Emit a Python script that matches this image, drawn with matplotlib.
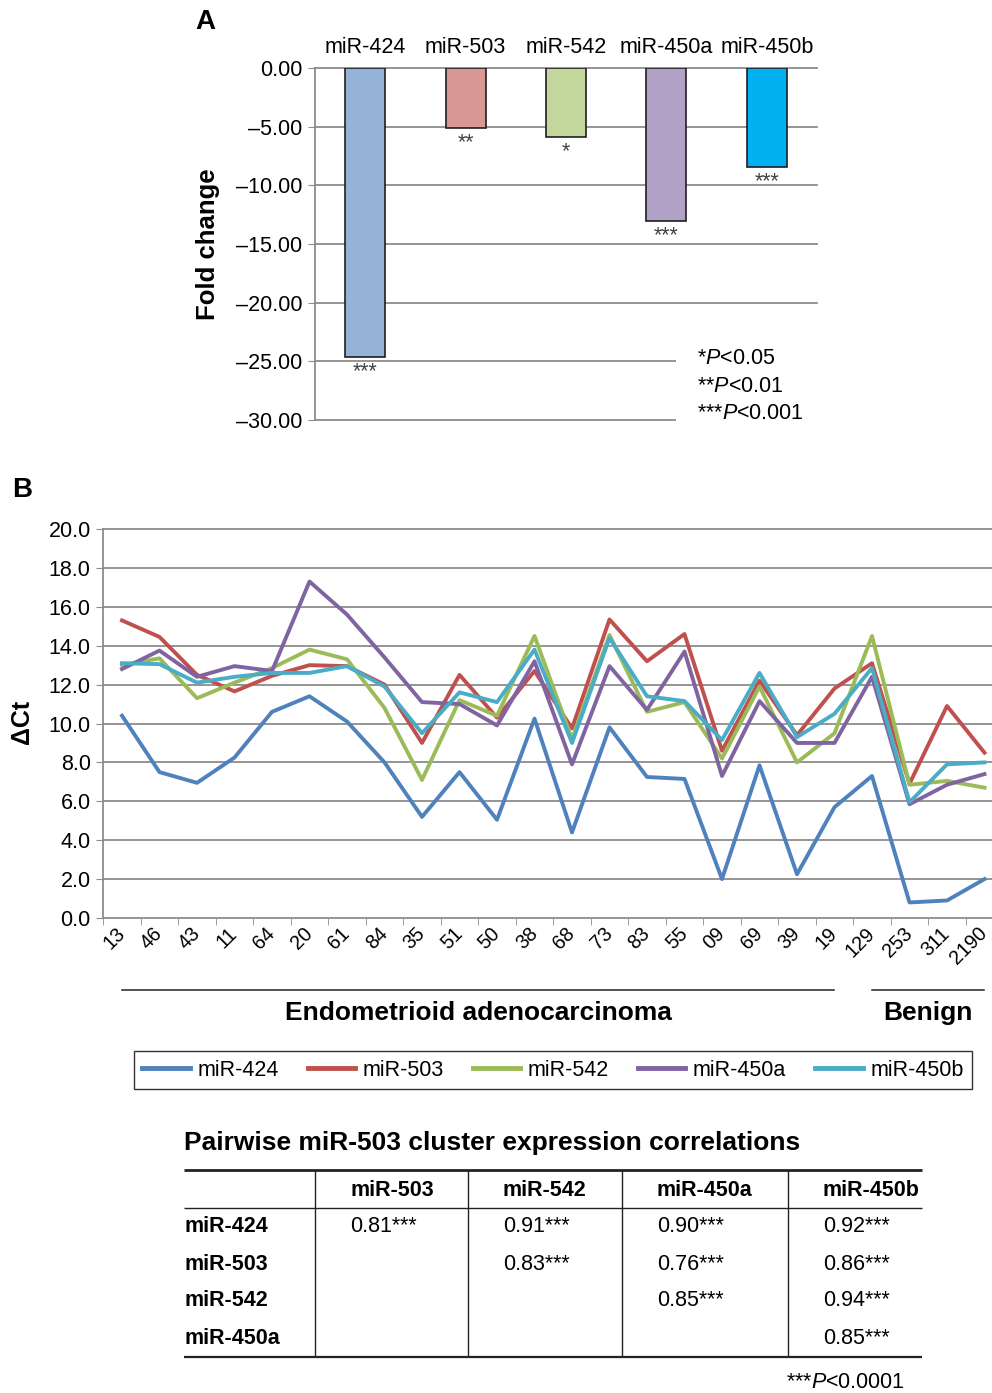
import numpy as np
import matplotlib
matplotlib.use('Agg')
import matplotlib.pyplot as plt
from matplotlib import transforms as mtransforms

plt.rcParams['font.family'] = ['Liberation Sans', 'DejaVu Sans']
plt.rcParams['mathtext.fontset'] = 'custom'
plt.rcParams['mathtext.rm'] = 'Liberation Sans'
plt.rcParams['mathtext.it'] = 'Liberation Sans:italic'

# ---- data ----
mirnas = ['miR-424', 'miR-503', 'miR-542', 'miR-450a', 'miR-450b']
fold_change = [-24.6, -5.1, -5.85, -13.05, -8.4]
fold_stars = ['***', '**', '*', '***', '***']
bar_colors = ['#95B3D7', '#D99795', '#C3D69B', '#B3A2C7', '#00B0F0']

samples = ['13', '46', '43', '11', '64', '20', '61', '84', '35', '51', '50', '38',
           '68', '73', '83', '55', '09', '69', '39', '19', '129', '253', '311', '2190']
mir424 = [10.4, 7.5, 6.95, 8.25, 10.6, 11.4, 10.1, 8.0, 5.2, 7.5, 5.05, 10.25,
          4.4, 9.8, 7.25, 7.15, 2.0, 7.85, 2.25, 5.7, 7.3, 0.8, 0.9, 2.0]
mir503 = [15.3, 14.45, 12.5, 11.65, 12.45, 13.0, 12.95, 12.0, 9.0, 12.5, 10.3, 12.7,
          9.75, 15.35, 13.2, 14.6, 8.6, 12.2, 9.4, 11.8, 13.1, 6.9, 10.9, 8.5]
mir542 = [13.0, 13.35, 11.3, 12.1, 12.85, 13.8, 13.3, 10.8, 7.1, 11.2, 10.4, 14.5,
          9.2, 14.55, 10.6, 11.1, 8.2, 11.9, 8.0, 9.5, 14.5, 6.85, 7.05, 6.7]
mir450a = [12.8, 13.75, 12.4, 12.95, 12.7, 17.3, 15.6, 13.4, 11.1, 11.0, 9.9, 13.2,
           7.9, 12.95, 10.7, 13.7, 7.3, 11.15, 9.0, 9.0, 12.4, 5.85, 6.85, 7.4]
mir450b = [13.1, 13.05, 12.1, 12.4, 12.6, 12.6, 12.95, 11.9, 9.5, 11.6, 11.1, 13.8,
           9.0, 14.4, 11.4, 11.15, 9.15, 12.6, 9.3, 10.5, 12.85, 5.95, 7.9, 8.0]
series = [mir424, mir503, mir542, mir450a, mir450b]
line_colors = ['#4F81BD', '#C0504D', '#9BBB59', '#8064A2', '#4BACC6']
n_cancer = 20

corr_rows = ['miR-424', 'miR-503', 'miR-542', 'miR-450a']
corr_cols = ['miR-503', 'miR-542', 'miR-450a', 'miR-450b']
corr_vals = [[0.81, 0.91, 0.90, 0.92],
             [None, 0.83, 0.76, 0.86],
             [None, None, 0.85, 0.94],
             [None, None, None, 0.85]]

W, H = 992, 1393
fig = plt.figure(figsize=(W / 100, H / 100), dpi=100)
grid_c = '#8c8c8c'
fs = 15.5


def px_axes(x0, y0, x1, y1):
    return fig.add_axes([x0 / W, 1 - y1 / H, (x1 - x0) / W, (y1 - y0) / H])


# ---- panel A ----
axA = px_axes(315, 68, 817, 420)
xa = np.arange(len(mirnas)) + 0.5
axA.bar(xa, fold_change, width=0.4, color=bar_colors, edgecolor='#1f1f1f', linewidth=1.2, zorder=3)
axA.set_xlim(0, len(mirnas))
axA.set_ylim(-30, 0)
for v in range(0, -21, -5):
    axA.axhline(v, color=grid_c, lw=1.3, zorder=1, clip_on=False)
for v in (-25, -30):
    axA.hlines(v, 0, 3.6, color=grid_c, lw=1.3, zorder=1, clip_on=False)
for s in ['top', 'right', 'bottom']:
    axA.spines[s].set_visible(False)
axA.spines['left'].set_color(grid_c)
axA.spines['left'].set_linewidth(1.3)
yt = np.arange(-30, 1, 5)
axA.set_yticks(yt, [f'{v:.2f}'.replace('-', '\u2013') for v in yt])
axA.tick_params(axis='y', direction='out', length=5, color=grid_c, labelsize=fs, pad=4)
axA.xaxis.tick_top()
axA.set_xticks(xa, mirnas)
axA.tick_params(axis='x', length=0, labelsize=fs, pad=7)
for xi, v, s in zip(xa, fold_change, fold_stars):
    axA.annotate(s, (xi, v), xytext=(0, -3), textcoords='offset points',
                 ha='center', va='top', fontsize=fs, color='#404040')

fig.text(697 / W, 1 - 358 / H, r'*$P$<0.05', fontsize=fs, va='center')
fig.text(697 / W, 1 - 386 / H, r'**$P$<0.01', fontsize=fs, va='center')
fig.text(697 / W, 1 - 413 / H, r'***$P$<0.001', fontsize=fs, va='center')
fig.text(208 / W, 1 - 244 / H, 'Fold change', rotation=90, fontsize=18.5, weight='bold',
         ha='center', va='center')
fig.text(205 / W, 1 - 22 / H, 'A', fontsize=20, weight='bold', ha='center', va='center')

# ---- panel B ----
axB = px_axes(103.25, 529, 1003.25, 918)
xs = np.arange(len(samples))
for name, vals, c in zip(mirnas, series, line_colors):
    axB.plot(xs, vals, color=c, lw=2.8, label=name, zorder=3)
axB.set_xlim(-0.5, len(samples) - 0.5)
axB.set_ylim(0, 20)
for v in range(2, 21, 2):
    axB.axhline(v, color=grid_c, lw=1.3, zorder=1, clip_on=False)
for s in ['top', 'right']:
    axB.spines[s].set_visible(False)
for s in ['left', 'bottom']:
    axB.spines[s].set_color(grid_c)
    axB.spines[s].set_linewidth(1.3)
yb = np.arange(0, 21, 2)
axB.set_yticks(yb, [f'{v:.1f}' for v in yb])
axB.tick_params(axis='y', direction='out', length=5, color=grid_c, labelsize=fs, pad=4)
axB.set_xticks(xs, samples)
axB.set_xticks(np.arange(-0.5, len(samples), 1), minor=True)
axB.tick_params(axis='x', which='major', length=0, labelsize=14.2, pad=9)
axB.tick_params(axis='x', which='minor', direction='out', length=5, color=grid_c)
for lbl in axB.get_xticklabels():
    lbl.set_rotation(45)
    lbl.set_rotation_mode('anchor')
    lbl.set_ha('right')
    lbl.set_va('center')

trans = mtransforms.blended_transform_factory(axB.transData, axB.transAxes)
yl = (918 - 990) / 389
yt_txt = (918 - 1013) / 389
axB.plot([0, n_cancer - 1], [yl, yl], transform=trans, color='#222222', lw=1.1, clip_on=False)
axB.plot([n_cancer, len(samples) - 1], [yl, yl], transform=trans, color='#222222', lw=1.1, clip_on=False)
axB.text((n_cancer - 1) / 2, yt_txt, 'Endometrioid adenocarcinoma', transform=trans,
         ha='center', va='center', fontsize=19, weight='bold')
axB.text((n_cancer + len(samples) - 1) / 2, yt_txt, 'Benign', transform=trans,
         ha='center', va='center', fontsize=19, weight='bold')

fig.text(22 / W, 1 - 722 / H, '\u0394Ct', rotation=90, fontsize=18, weight='bold',
         ha='center', va='center')
fig.text(22 / W, 1 - 490 / H, 'B', fontsize=20, weight='bold', ha='center', va='center')

handles, labels = axB.get_legend_handles_labels()
leg = fig.legend(handles, labels, loc='center', bbox_to_anchor=(553 / W, 1 - 1070 / H),
                 ncol=5, frameon=True, fancybox=False, edgecolor='black', fontsize=fs,
                 handlelength=2.2, handletextpad=0.35, columnspacing=1.35, borderpad=0.4)
leg.get_frame().set_linewidth(1.0)
for ln in leg.get_lines():
    ln.set_linewidth(3.5)

# ---- correlation table ----
ov = fig.add_axes([0, 0, 1, 1])
ov.set_xlim(0, W)
ov.set_ylim(H, 0)
ov.axis('off')
tx0, tx1 = 184, 922
col_edges = [315, 468, 622, 788]
ov.text(tx0, 1143, 'Pairwise miR-503 cluster expression correlations', fontsize=19,
        weight='bold', va='center')
ov.hlines(1170, tx0, tx1, color='#222222', lw=2.0)
ov.hlines(1208, tx0, tx1, color='#222222', lw=1.0)
ov.hlines(1357, tx0, tx1, color='#222222', lw=1.6)
ov.vlines(col_edges, 1170, 1357, color='#222222', lw=1.0)
for j, c in enumerate(corr_cols):
    ov.text(col_edges[j] + 35, 1190, c, fontsize=fs, weight='bold', va='center')
for i, r in enumerate(corr_rows):
    ry = 1227 + 37 * i
    ov.text(tx0, ry, r, fontsize=fs, weight='bold', va='center')
    for j, v in enumerate(corr_vals[i]):
        if v is not None:
            ov.text(col_edges[j] + 35, ry, f'{v:.2f}***', fontsize=fs, va='center')
ov.text(905, 1382, r'***$P$<0.0001', fontsize=fs, ha='right', va='center')

fig.savefig('out.png', dpi=100)
